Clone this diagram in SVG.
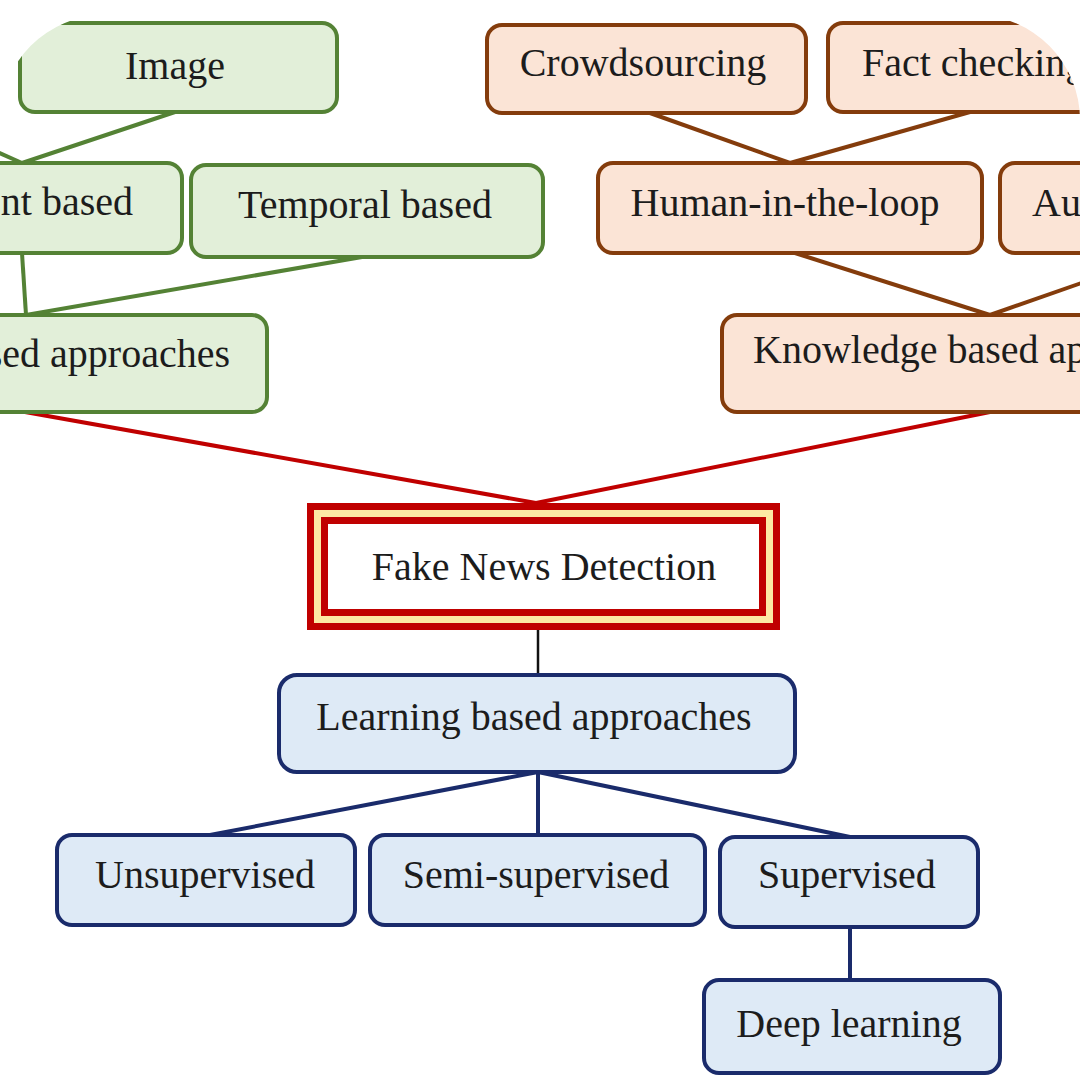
<svg xmlns="http://www.w3.org/2000/svg" width="1080" height="1080" viewBox="0 0 1080 1080">
<defs>
<clipPath id="frame"><rect x="0" y="15" width="1080" height="1062" rx="105" ry="105"/></clipPath>
<style>
text{font-family:"Liberation Serif","Times New Roman",serif;font-size:40px;fill:#1c1c1c}
.c{text-anchor:middle}
.g rect{fill:#e2efd9;stroke:#548235;stroke-width:4}
.o rect{fill:#fbe4d6;stroke:#843c0c;stroke-width:4}
.b rect{fill:#deeaf6;stroke:#1a2b6b;stroke-width:4}
.lg{stroke:#548235;stroke-width:4;fill:none}
.lo{stroke:#843c0c;stroke-width:4;fill:none}
.lr{stroke:#c00000;stroke-width:4;fill:none}
.lb{stroke:#1a2b6b;stroke-width:4;fill:none}
.lk{stroke:#111;stroke-width:2.5;fill:none}
</style>
</defs>
<rect width="1080" height="1080" fill="#ffffff"/>
<g clip-path="url(#frame)">
<g id="connectors">
<line class="lg" x1="175" y1="112" x2="22" y2="163"/>
<line class="lg" x1="-50" y1="131" x2="22" y2="163"/>
<line class="lg" x1="22" y1="253" x2="26" y2="315"/>
<line class="lg" x1="362" y1="257" x2="26" y2="315"/>
<line class="lo" x1="650" y1="113" x2="790" y2="163"/>
<line class="lo" x1="970" y1="112" x2="790" y2="163"/>
<line class="lo" x1="795" y1="253" x2="990" y2="315"/>
<line class="lo" x1="1090" y1="280" x2="990" y2="315"/>
<line class="lr" x1="25" y1="412" x2="536" y2="503"/>
<line class="lr" x1="990" y1="412" x2="536" y2="503"/>
<line class="lk" x1="538" y1="630" x2="538" y2="675"/>
<line class="lb" x1="538" y1="772" x2="210" y2="835"/>
<line class="lb" x1="538" y1="772" x2="538" y2="835"/>
<line class="lb" x1="538" y1="772" x2="850" y2="837"/>
<line class="lb" x1="850" y1="927" x2="850" y2="980"/>
</g>
<g id="image" class="g"><rect x="20" y="23" width="317" height="89" rx="15"/><text class="c" x="175" y="79">Image</text></g>
<g id="content-based" class="g"><rect x="-40" y="163" width="222" height="90" rx="15"/><text x="133" y="215" text-anchor="end">nt based</text></g>
<g id="temporal-based" class="g"><rect x="191" y="165" width="352" height="92" rx="15"/><text class="c" x="365" y="218">Temporal based</text></g>
<g id="green-approaches" class="g"><rect x="-40" y="315" width="307" height="97" rx="15"/><text x="230" y="367" text-anchor="end">sed approaches</text></g>
<g id="crowdsourcing" class="o"><rect x="487" y="25" width="319" height="88" rx="15"/><text class="c" x="643" y="76">Crowdsourcing</text></g>
<g id="fact-checking" class="o"><rect x="828" y="23" width="300" height="89" rx="15"/><text x="862" y="76">Fact checking</text></g>
<g id="human-in-the-loop" class="o"><rect x="598" y="163" width="384" height="90" rx="15"/><text class="c" x="785" y="216">Human-in-the-loop</text></g>
<g id="automatic" class="o"><rect x="1000" y="163" width="140" height="90" rx="15"/><text x="1032" y="216">Au</text></g>
<g id="knowledge-based" class="o"><rect x="722" y="315" width="420" height="97" rx="15"/><text x="753" y="363">Knowledge based ap</text></g>
<g id="fake-news-detection">
<rect x="310.5" y="506.5" width="466" height="120" fill="#fde8a4" stroke="#c00000" stroke-width="7"/>
<rect x="324.5" y="520.5" width="438" height="92" fill="#ffffff" stroke="#c00000" stroke-width="7"/>
<text class="c" x="544" y="580">Fake News Detection</text>
</g>
<g id="learning-based" class="b"><rect x="279" y="675" width="516" height="97" rx="18"/><text class="c" x="534" y="730">Learning based approaches</text></g>
<g id="unsupervised" class="b"><rect x="57" y="835" width="298" height="90" rx="15"/><text class="c" x="205" y="888">Unsupervised</text></g>
<g id="semi-supervised" class="b"><rect x="370" y="835" width="335" height="90" rx="15"/><text class="c" x="536" y="888">Semi-supervised</text></g>
<g id="supervised" class="b"><rect x="720" y="837" width="258" height="90" rx="15"/><text class="c" x="847" y="888">Supervised</text></g>
<g id="deep-learning" class="b"><rect x="704" y="980" width="296" height="93" rx="15"/><text class="c" x="849" y="1037">Deep learning</text></g>
</g>
</svg>
